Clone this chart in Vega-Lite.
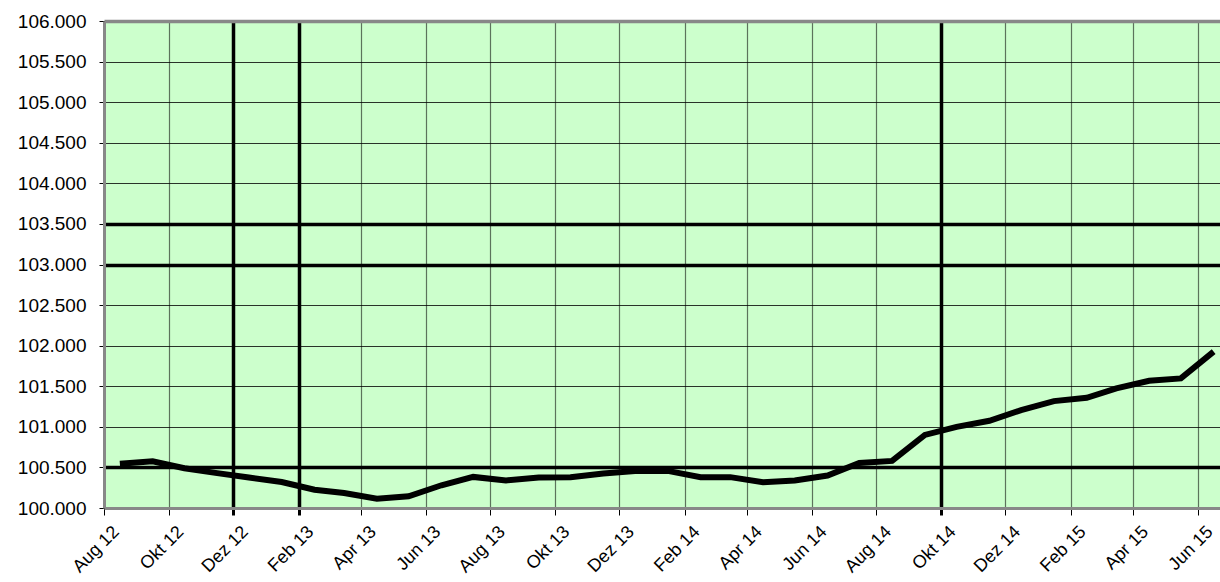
{
  "$schema": "https://vega.github.io/schema/vega-lite/v6.json",
  "autosize": "none",
  "width": 1116,
  "height": 487,
  "padding": {"left": 104, "top": 21, "right": 0, "bottom": 74},
  "background": "white",
  "config": {
    "view": {"fill": "#CCFFCC", "stroke": null},
    "font": "Liberation Sans"
  },
  "data": {
    "values": [
      {"date": "2012-08-16", "value": 100.545},
      {"date": "2012-09-16", "value": 100.575},
      {"date": "2012-10-16", "value": 100.49},
      {"date": "2012-11-16", "value": 100.43},
      {"date": "2012-12-16", "value": 100.375},
      {"date": "2013-01-16", "value": 100.32},
      {"date": "2013-02-16", "value": 100.225},
      {"date": "2013-03-16", "value": 100.185},
      {"date": "2013-04-16", "value": 100.115},
      {"date": "2013-05-16", "value": 100.145},
      {"date": "2013-06-16", "value": 100.28},
      {"date": "2013-07-16", "value": 100.383},
      {"date": "2013-08-16", "value": 100.34},
      {"date": "2013-09-16", "value": 100.375},
      {"date": "2013-10-16", "value": 100.38},
      {"date": "2013-11-16", "value": 100.425},
      {"date": "2013-12-16", "value": 100.457},
      {"date": "2014-01-16", "value": 100.457},
      {"date": "2014-02-16", "value": 100.38},
      {"date": "2014-03-16", "value": 100.38},
      {"date": "2014-04-16", "value": 100.317},
      {"date": "2014-05-16", "value": 100.34},
      {"date": "2014-06-16", "value": 100.40},
      {"date": "2014-07-16", "value": 100.555},
      {"date": "2014-08-16", "value": 100.58},
      {"date": "2014-09-16", "value": 100.90},
      {"date": "2014-10-16", "value": 101.0},
      {"date": "2014-11-16", "value": 101.075},
      {"date": "2014-12-16", "value": 101.206},
      {"date": "2015-01-16", "value": 101.317},
      {"date": "2015-02-16", "value": 101.358},
      {"date": "2015-03-16", "value": 101.474},
      {"date": "2015-04-16", "value": 101.568},
      {"date": "2015-05-16", "value": 101.597},
      {"date": "2015-06-16", "value": 101.926}
    ]
  },
  "mark": {"type": "line", "color": "black", "strokeWidth": 6, "strokeJoin": "miter", "strokeCap": "butt"},
  "encoding": {
    "x": {
      "field": "date",
      "type": "temporal",
      "scale": {
        "type": "utc",
        "domain": [
          {"year": 2012, "month": 8, "date": 1, "utc": true},
          {"year": 2015, "month": 6, "date": 22, "utc": true}
        ],
        "nice": false
      },
      "axis": {
        "title": null,
        "values": [
          {"year": 2012, "month": 8, "date": 1, "utc": true},
          {"year": 2012, "month": 10, "date": 1, "utc": true},
          {"year": 2012, "month": 12, "date": 1, "utc": true},
          {"year": 2013, "month": 2, "date": 1, "utc": true},
          {"year": 2013, "month": 4, "date": 1, "utc": true},
          {"year": 2013, "month": 6, "date": 1, "utc": true},
          {"year": 2013, "month": 8, "date": 1, "utc": true},
          {"year": 2013, "month": 10, "date": 1, "utc": true},
          {"year": 2013, "month": 12, "date": 1, "utc": true},
          {"year": 2014, "month": 2, "date": 1, "utc": true},
          {"year": 2014, "month": 4, "date": 1, "utc": true},
          {"year": 2014, "month": 6, "date": 1, "utc": true},
          {"year": 2014, "month": 8, "date": 1, "utc": true},
          {"year": 2014, "month": 10, "date": 1, "utc": true},
          {"year": 2014, "month": 12, "date": 1, "utc": true},
          {"year": 2015, "month": 2, "date": 1, "utc": true},
          {"year": 2015, "month": 4, "date": 1, "utc": true},
          {"year": 2015, "month": 6, "date": 1, "utc": true}
        ],
        "labelExpr": "['Jan','Feb','Mär','Apr','Mai','Jun','Jul','Aug','Sep','Okt','Nov','Dez'][utcmonth(datum.value)] + ' ' + utcFormat(datum.value, '%y')",
        "labelAngle": -45,
        "labelAlign": "right",
        "labelBaseline": "middle",
        "labelFontSize": 18,
        "labelColor": "black",
        "labelPadding": 14,
        "labelOffset": 12,
        "labelOverlap": false,
        "labelBound": false,
        "labelFlush": false,
        "domainColor": "#888888",
        "domainWidth": 3,
        "tickColor": "black",
        "tickSize": 7,
        "tickWidth": {"condition": {"test": "(utcyear(datum.value)==2012 && utcmonth(datum.value)==11) || (utcyear(datum.value)==2013 && utcmonth(datum.value)==1) || (utcyear(datum.value)==2014 && utcmonth(datum.value)==9)", "value": 3}, "value": 1},
        "grid": true,
        "gridColor": "black",
        "gridWidth": {"condition": {"test": "(utcyear(datum.value)==2012 && utcmonth(datum.value)==11) || (utcyear(datum.value)==2013 && utcmonth(datum.value)==1) || (utcyear(datum.value)==2014 && utcmonth(datum.value)==9)", "value": 3.5}, "value": 1.2},
        "gridOpacity": {"condition": {"test": "(utcyear(datum.value)==2012 && utcmonth(datum.value)==11) || (utcyear(datum.value)==2013 && utcmonth(datum.value)==1) || (utcyear(datum.value)==2014 && utcmonth(datum.value)==9)", "value": 1}, "value": 0.55}
      }
    },
    "y": {
      "field": "value",
      "type": "quantitative",
      "scale": {"domain": [100, 106], "nice": false, "zero": false},
      "axis": {
        "title": null,
        "values": [100, 100.5, 101, 101.5, 102, 102.5, 103, 103.5, 104, 104.5, 105, 105.5, 106],
        "format": ".3f",
        "labelFontSize": 19,
        "labelColor": "black",
        "labelPadding": 13,
        "domainColor": "#888888",
        "domainWidth": 3,
        "tickColor": "black",
        "tickSize": 5,
        "tickWidth": 1,
        "grid": true,
        "gridColor": {"condition": {"test": "datum.value == 106", "value": "#888888"}, "value": "black"},
        "gridWidth": {"condition": {"test": "datum.value == 100.5 || datum.value == 103 || datum.value == 103.5 || datum.value == 106", "value": 3.5}, "value": 1.2},
        "gridOpacity": {"condition": {"test": "datum.value == 100.5 || datum.value == 103 || datum.value == 103.5 || datum.value == 106", "value": 1}, "value": 0.8}
      }
    }
  }
}
